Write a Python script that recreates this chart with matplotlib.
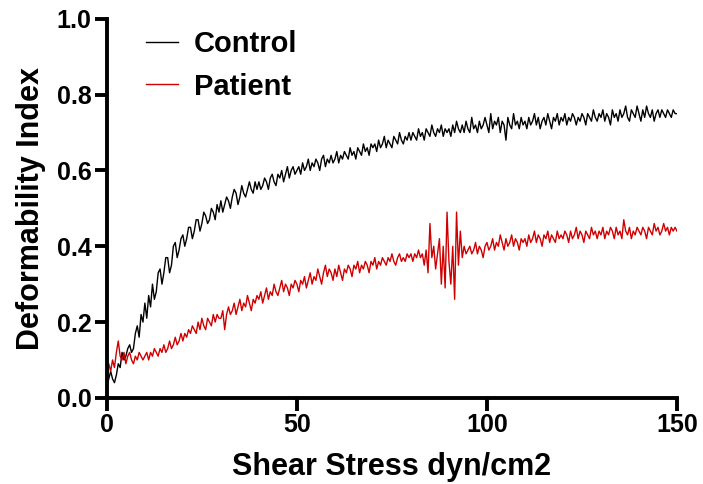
import matplotlib
matplotlib.use("Agg")
from matplotlib import pyplot as plt
import numpy as np

# shear stress, dyn/cm2, one reading every 0.5
shear = np.arange(0, 150.5, 0.5)

control = [
    # 0 - 9.5
    0.03, 0.05, 0.07, 0.05, 0.04, 0.06, 0.09, 0.08, 0.12, 0.10,
    0.11, 0.13, 0.14, 0.12, 0.13, 0.17, 0.19, 0.16, 0.22, 0.20,
    # 10 - 19.5
    0.25, 0.21, 0.27, 0.24, 0.30, 0.26, 0.28, 0.33, 0.34, 0.30,
    0.33, 0.37, 0.37, 0.33, 0.35, 0.40, 0.41, 0.37, 0.39, 0.42,
    # 20 - 29.5
    0.43, 0.40, 0.42, 0.45, 0.45, 0.42, 0.44, 0.47, 0.47, 0.44,
    0.46, 0.49, 0.48, 0.46, 0.47, 0.50, 0.49, 0.47, 0.51, 0.49,
    # 30 - 39.5
    0.52, 0.49, 0.51, 0.53, 0.52, 0.50, 0.53, 0.55, 0.54, 0.51,
    0.53, 0.56, 0.54, 0.53, 0.55, 0.57, 0.55, 0.54, 0.57, 0.55,
    # 40 - 49.5
    0.57, 0.55, 0.56, 0.58, 0.57, 0.55, 0.58, 0.59, 0.57, 0.56,
    0.59, 0.58, 0.60, 0.57, 0.59, 0.61, 0.58, 0.60, 0.61, 0.59,
    # 50 - 59.5
    0.60, 0.61, 0.59, 0.62, 0.60, 0.61, 0.63, 0.60, 0.62, 0.61,
    0.63, 0.62, 0.60, 0.63, 0.64, 0.61, 0.63, 0.62, 0.64, 0.62,
    # 60 - 69.5
    0.63, 0.65, 0.62, 0.64, 0.63, 0.65, 0.64, 0.63, 0.66, 0.64,
    0.65, 0.63, 0.66, 0.65, 0.64, 0.67, 0.65, 0.66, 0.64, 0.67,
    # 70 - 79.5
    0.66, 0.67, 0.65, 0.68, 0.66, 0.67, 0.69, 0.66, 0.68, 0.67,
    0.66, 0.69, 0.68, 0.67, 0.70, 0.68, 0.67, 0.69, 0.68, 0.70,
    # 80 - 89.5
    0.68, 0.70, 0.69, 0.68, 0.71, 0.69, 0.70, 0.68, 0.71, 0.70,
    0.69, 0.72, 0.70, 0.69, 0.71, 0.70, 0.72, 0.69, 0.71, 0.70,
    # 90 - 99.5
    0.71, 0.69, 0.72, 0.70, 0.73, 0.71, 0.70, 0.72, 0.70, 0.73,
    0.71, 0.70, 0.74, 0.71, 0.72, 0.70, 0.73, 0.71, 0.72, 0.74,
    # 100 - 109.5
    0.72, 0.70, 0.75, 0.71, 0.73, 0.72, 0.74, 0.70, 0.73, 0.72,
    0.68, 0.74, 0.72, 0.71, 0.75, 0.72, 0.73, 0.71, 0.74, 0.72,
    # 110 - 119.5
    0.73, 0.71, 0.74, 0.72, 0.73, 0.75, 0.72, 0.74, 0.71, 0.73,
    0.74, 0.72, 0.75, 0.73, 0.71, 0.74, 0.73, 0.75, 0.72, 0.74,
    # 120 - 129.5
    0.73, 0.75, 0.72, 0.74, 0.73, 0.75, 0.74, 0.72, 0.74, 0.73,
    0.75, 0.74, 0.72, 0.75, 0.74, 0.73, 0.76, 0.74, 0.73, 0.75,
    # 130 - 139.5
    0.74, 0.76, 0.73, 0.75, 0.74, 0.72, 0.76, 0.74, 0.75, 0.73,
    0.76, 0.74, 0.75, 0.77, 0.74, 0.73, 0.76, 0.75, 0.74, 0.77,
    # 140 - 149.5
    0.75, 0.73, 0.76, 0.74, 0.77, 0.75, 0.74, 0.76, 0.73, 0.75,
    0.76, 0.74, 0.76, 0.75, 0.74, 0.76, 0.75, 0.74, 0.76, 0.75,
    # 150
    0.75,
]

patient = [
    # 0 - 9.5
    0.05, 0.09, 0.07, 0.10, 0.08, 0.12, 0.15, 0.11, 0.10, 0.12,
    0.09, 0.11, 0.12, 0.10, 0.09, 0.11, 0.10, 0.12, 0.11, 0.10,
    # 10 - 19.5
    0.11, 0.12, 0.10, 0.12, 0.11, 0.13, 0.12, 0.11, 0.13, 0.12,
    0.14, 0.12, 0.13, 0.15, 0.13, 0.14, 0.16, 0.14, 0.15, 0.17,
    # 20 - 29.5
    0.15, 0.17, 0.16, 0.18, 0.17, 0.19, 0.18, 0.17, 0.20, 0.18,
    0.21, 0.19, 0.18, 0.21, 0.20, 0.19, 0.22, 0.20, 0.22, 0.21,
    # 30 - 39.5
    0.21, 0.23, 0.18, 0.22, 0.24, 0.22, 0.23, 0.25, 0.22, 0.24,
    0.26, 0.23, 0.25, 0.24, 0.27, 0.25, 0.23, 0.26, 0.25, 0.27,
    # 40 - 49.5
    0.26, 0.28, 0.25, 0.27, 0.29, 0.26, 0.28, 0.27, 0.30, 0.28,
    0.27, 0.29, 0.31, 0.28, 0.30, 0.29, 0.27, 0.30, 0.29, 0.31,
    # 50 - 59.5
    0.30, 0.28, 0.31, 0.30, 0.32, 0.29, 0.31, 0.33, 0.30, 0.32,
    0.31, 0.34, 0.32, 0.30, 0.33, 0.35, 0.32, 0.34, 0.33, 0.31,
    # 60 - 69.5
    0.34, 0.32, 0.35, 0.33, 0.31, 0.34, 0.33, 0.35, 0.34, 0.32,
    0.35, 0.34, 0.36, 0.33, 0.35, 0.34, 0.36, 0.35, 0.33, 0.36,
    # 70 - 79.5
    0.35, 0.37, 0.34, 0.36, 0.35, 0.37, 0.36, 0.35, 0.37, 0.36,
    0.38, 0.36, 0.35, 0.37, 0.38, 0.36, 0.37, 0.36, 0.38, 0.37,
    # 80 - 89.5
    0.38, 0.36, 0.38, 0.37, 0.39, 0.37, 0.38, 0.35, 0.39, 0.33,
    0.46, 0.37, 0.40, 0.34, 0.38, 0.42, 0.30, 0.40, 0.29, 0.49,
    # 90 - 99.5
    0.36, 0.30, 0.40, 0.26, 0.49, 0.35, 0.44, 0.37, 0.40, 0.38,
    0.39, 0.40, 0.38, 0.39, 0.41, 0.38, 0.40, 0.39, 0.37, 0.40,
    # 100 - 109.5
    0.41, 0.39, 0.40, 0.42, 0.39, 0.41, 0.40, 0.43, 0.41, 0.39,
    0.42, 0.40, 0.41, 0.43, 0.40, 0.42, 0.41, 0.39, 0.42, 0.41,
    # 110 - 119.5
    0.42, 0.40, 0.43, 0.41, 0.42, 0.44, 0.41, 0.43, 0.42, 0.40,
    0.43, 0.42, 0.44, 0.41, 0.43, 0.42, 0.41, 0.44, 0.42, 0.43,
    # 120 - 129.5
    0.42, 0.44, 0.43, 0.41, 0.44, 0.42, 0.43, 0.45, 0.42, 0.44,
    0.43, 0.41, 0.44, 0.43, 0.42, 0.45, 0.43, 0.44, 0.42, 0.44,
    # 130 - 139.5
    0.43, 0.45, 0.42, 0.44, 0.43, 0.45, 0.44, 0.42, 0.45, 0.43,
    0.44, 0.42, 0.47, 0.44, 0.43, 0.45, 0.42, 0.44, 0.43, 0.45,
    # 140 - 149.5
    0.44, 0.43, 0.45, 0.44, 0.42, 0.45, 0.44, 0.43, 0.46, 0.44,
    0.45, 0.43, 0.44, 0.46, 0.44, 0.45, 0.43, 0.45, 0.44, 0.45,
    # 150
    0.44,
]

plt.rcParams['font.family'] = ['Liberation Sans', 'DejaVu Sans']
plt.rcParams['font.weight'] = 'bold'

fig = plt.figure(figsize=(7.03, 4.84), dpi=100)
ax = fig.add_axes([0.152, 0.178, 0.811, 0.783])

ax.plot(shear, control, color='black', lw=1.0, label='Control')
ax.plot(shear, patient, color='#d00000', lw=1.0, label='Patient')

ax.set_xlim(0, 150)
ax.set_ylim(0, 1.0)
ax.set_xticks([0, 50, 100, 150])
ax.set_yticks([0.0, 0.2, 0.4, 0.6, 0.8, 1.0])
ax.set_yticklabels(['0.0', '0.2', '0.4', '0.6', '0.8', '1.0'])

for side in ['top', 'right']:
    ax.spines[side].set_visible(False)
for side in ['left', 'bottom']:
    ax.spines[side].set_linewidth(2.8)
ax.tick_params(width=2.8, length=9, direction='out', labelsize=18, pad=2)

ax.set_xlabel('Shear Stress dyn/cm2', fontsize=22, fontweight='bold', labelpad=11)
ax.set_ylabel('Deformability Index', fontsize=22, fontweight='bold', labelpad=8)

ax.legend(loc='upper left', bbox_to_anchor=(0.022, 1.04), frameon=False,
          fontsize=21, handlelength=1.1, handletextpad=0.55, labelspacing=0.5)

fig.savefig('out.png', dpi=100)
